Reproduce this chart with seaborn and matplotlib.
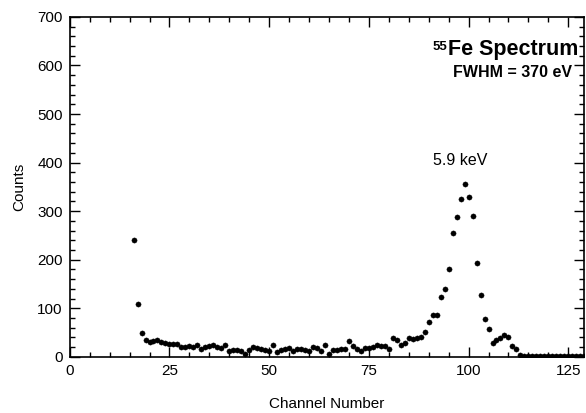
import matplotlib
matplotlib.use("Agg")
import matplotlib.pyplot as plt
import seaborn as sns
import pandas as pd
import numpy as np
from matplotlib.ticker import MultipleLocator
from matplotlib import font_manager

channels = list(range(16, 130))
counts = [240, 108, 50, 35, 30, 33, 35, 31, 29, 27,
          27, 27, 20, 20, 22, 21, 24, 16, 20, 22,
          24, 20, 18, 24, 11, 14, 15, 12, 5, 14,
          21, 18, 17, 15, 12, 24, 10, 15, 17, 18,
          12, 17, 17, 14, 12, 21, 18, 12, 24, 6,
          15, 14, 17, 16, 33, 23, 16, 12, 18, 18,
          20, 25, 22, 23, 17, 38, 34, 25, 28, 38,
          37, 38, 41, 51, 71, 87, 87, 123, 139, 180,
          254, 288, 325, 355, 330, 290, 193, 128, 77, 57,
          28, 34, 39, 44, 41, 23, 16, 3, 1, 2,
          1, 1, 2, 1, 1, 1, 2, 1, 1, 1,
          1, 2, 1, 1]

df = pd.DataFrame({"Channel Number": channels, "Counts": counts})

sns.set_style("ticks")
plt.rcParams["font.family"] = ["Liberation Sans", "DejaVu Sans"]
plt.rcParams["text.color"] = "black"
plt.rcParams["axes.labelcolor"] = "black"
plt.rcParams["xtick.color"] = "black"
plt.rcParams["ytick.color"] = "black"

names = {f.name for f in font_manager.fontManager.ttflist}
narrow = "Liberation Sans Narrow" if "Liberation Sans Narrow" in names else "Liberation Sans"

fig = plt.figure(figsize=(5.86, 4.13), dpi=100)
ax = fig.add_axes([0.119, 0.136, 0.878, 0.823])

sns.scatterplot(data=df, x="Channel Number", y="Counts", ax=ax,
                color="black", s=14, edgecolor="black", linewidth=0.3)

ax.set_xlim(0, 129)
ax.set_ylim(0, 700)
ax.xaxis.set_major_locator(MultipleLocator(25))
ax.xaxis.set_minor_locator(MultipleLocator(5))
ax.yaxis.set_major_locator(MultipleLocator(100))
ax.yaxis.set_minor_locator(MultipleLocator(20))
ax.tick_params(which="both", direction="in", top=True, right=True,
               color="black", width=1.0)
ax.tick_params(which="major", length=7, labelsize=11, pad=5)
ax.tick_params(which="minor", length=3.5)
for sp in ax.spines.values():
    sp.set_visible(True)
    sp.set_linewidth(1.2)
    sp.set_color("black")

ax.set_xlabel("Channel Number", fontsize=11, labelpad=14)
ax.set_ylabel("Counts", fontsize=11, labelpad=8)

title = ax.text(127.5, 632, "Fe Spectrum", ha="right", va="center",
                fontsize=15.5, fontweight="bold")
fig.canvas.draw()
bb = title.get_window_extent(renderer=fig.canvas.get_renderer())
x0, y1 = ax.transData.inverted().transform((bb.x0, bb.y1))
ax.text(x0 - 0.2, y1 - 4, "55", ha="right", va="top",
        fontsize=9.5, fontweight="bold")
ax.text(126.0, 586, "FWHM = 370 eV", ha="right", va="center",
        fontsize=11.5, fontweight="bold", family=[narrow, "DejaVu Sans"])
ax.text(98, 405, "5.9 keV", ha="center", va="center", fontsize=11.5)

fig.savefig("out.png", dpi=100)
